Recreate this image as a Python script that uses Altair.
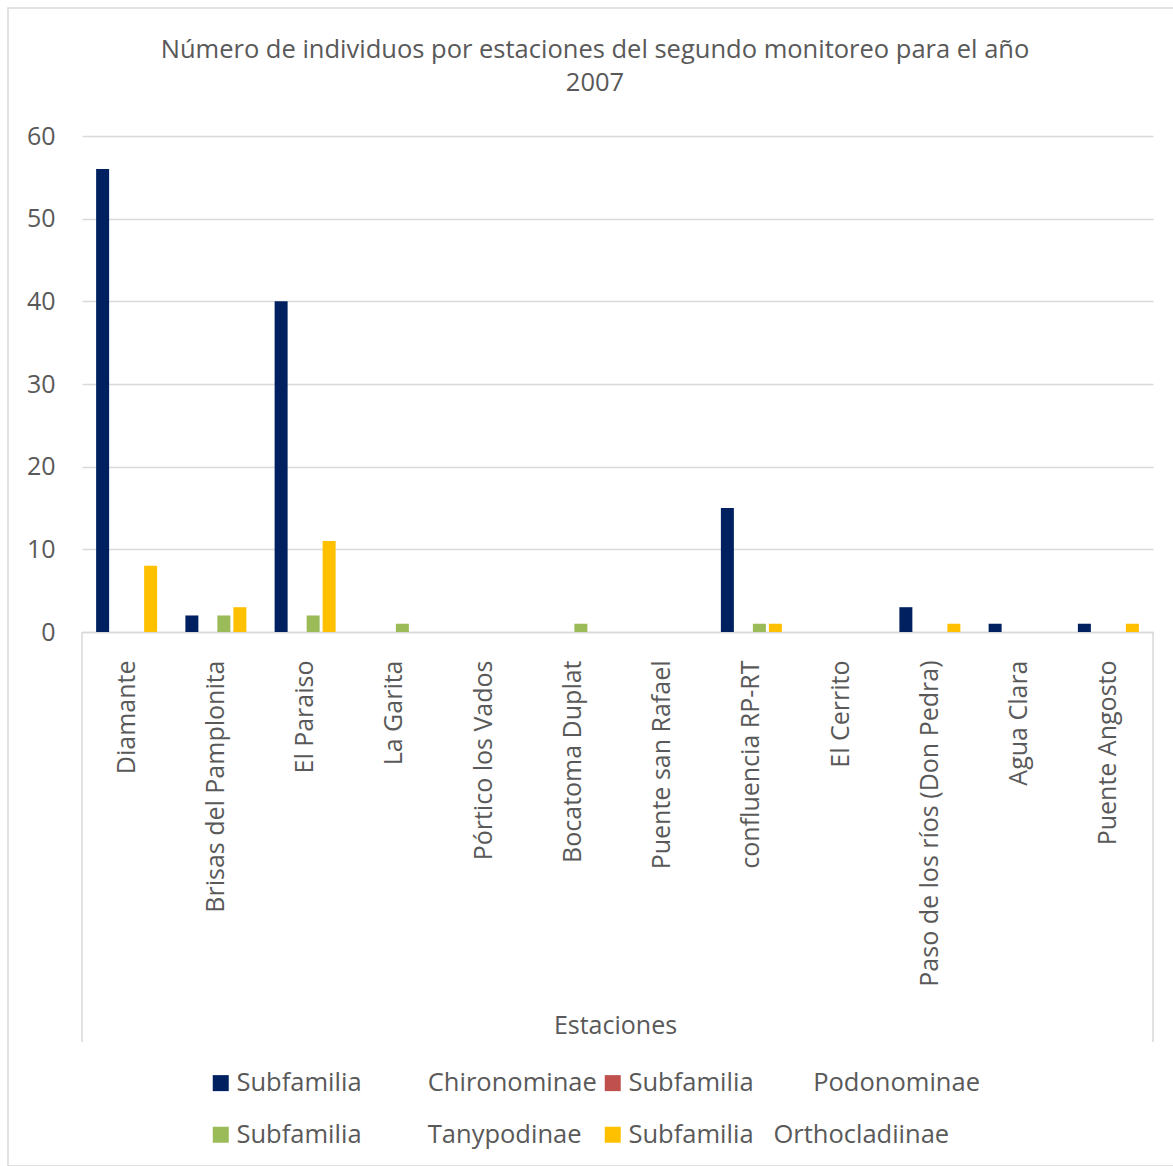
import altair as alt
import pandas as pd

NB = "\u00a0"

stations = [
    "Diamante", "Brisas del Pamplonita", "El Paraiso", "La Garita",
    "Pórtico los Vados", "Bocatoma Duplat", "Puente san Rafael",
    "confluencia RP-RT", "El Cerrito", "Paso de los ríos (Don Pedra)",
    "Agua Clara", "Puente Angosto",
]

series = [
    "Subfamilia" + NB * 10 + "Chironominae",
    "Subfamilia" + NB * 9 + "Podonominae",
    "Subfamilia" + NB * 10 + "Tanypodinae",
    "Subfamilia" + NB * 3 + "Orthocladiinae",
]
colors = ["#002060", "#C0504D", "#9BBB59", "#FFC000"]

chironominae = [56, 2, 40, 0, 0, 0, 0, 15, 0, 3, 1, 1]
podonominae = [0, 0, 0, 0, 0, 0, 0, 0, 0, 0, 0, 0]
tanypodinae = [0, 2, 2, 1, 0, 1, 0, 1, 0, 0, 0, 0]
orthocladiinae = [8, 3, 11, 0, 0, 0, 0, 1, 0, 1, 0, 1]

y_ticks = [0, 10, 20, 30, 40, 50, 60]

title_lines = [
    "Número de individuos por estaciones del segundo monitoreo para el año",
    "2007",
]

rows = []
for name, vals in zip(series, [chironominae, podonominae, tanypodinae, orthocladiinae]):
    for st, v in zip(stations, vals):
        rows.append({"Estación": st, "Serie": name, "Valor": v})
df = pd.DataFrame(rows)

FONT = "Open Sans"
GREY_TXT = "#595959"
GREY_LINE = "#d9d9d9"

bars = alt.Chart(df).mark_bar().encode(
    x=alt.X(
        "Estación:N",
        sort=stations,
        scale=alt.Scale(paddingInner=0, paddingOuter=0),
        axis=alt.Axis(
            title="Estaciones",
            labelAngle=-90,
            labelPadding=28,
            labelFontSize=25,
            labelColor=GREY_TXT,
            labelFont=FONT,
            labelLimit=400,
            ticks=False,
            grid=False,
            domainColor=GREY_LINE,
            domainWidth=1.5,
            titleFont=FONT,
            titleFontSize=25,
            titleFontWeight="normal",
            titleColor=GREY_TXT,
            titleY=393,
            titleX=533,
            titleBaseline="middle",
        ),
    ),
    xOffset=alt.XOffset(
        "Serie:N",
        sort=series,
        scale=alt.Scale(paddingInner=0.1875, paddingOuter=0.883),
    ),
    y=alt.Y(
        "Valor:Q",
        scale=alt.Scale(domain=[0, 60], nice=False),
        axis=alt.Axis(
            title=None,
            values=y_ticks,
            labelFontSize=25,
            labelColor=GREY_TXT,
            labelFont=FONT,
            labelPadding=27,
            ticks=False,
            domain=False,
            gridColor=GREY_LINE,
            gridWidth=1.5,
        ),
    ),
    color=alt.Color(
        "Serie:N",
        sort=series,
        scale=alt.Scale(domain=series, range=colors),
        legend=alt.Legend(
            title=None,
            orient="none",
            direction="horizontal",
            legendX=126,
            legendY=934,
            columns=2,
            symbolType="square",
            symbolSize=256,
            symbolStrokeWidth=0,
            labelFont=FONT,
            labelFontSize=25.5,
            labelColor=GREY_TXT,
            labelLimit=600,
            labelOffset=3,
            columnPadding=3,
            rowPadding=25,
            padding=0,
        ),
    ),
)

frame_df = pd.DataFrame({"k": [0]})

# outer chart border
outer = alt.Chart(frame_df).mark_rect(
    fill="transparent", stroke=GREY_LINE, strokeWidth=1.5
).encode(
    x=alt.value(-74), x2=alt.value(1110), y=alt.value(-128), y2=alt.value(1030)
)

# side edges of the box around the category labels
def side_edge(px):
    return alt.Chart(frame_df).mark_rect(fill=GREY_LINE, stroke=None).encode(
        x=alt.value(px - 0.75), x2=alt.value(px + 0.75),
        y=alt.value(496), y2=alt.value(906),
    )

label_box_left = side_edge(0)
label_box_right = side_edge(1071)

# two-line chart title
title_layers = [
    alt.Chart(frame_df).mark_text(
        font=FONT, fontSize=25.5, color=GREY_TXT, align="center", baseline="middle"
    ).encode(x=alt.value(513), y=alt.value(yy), text=alt.value(line))
    for line, yy in zip(title_lines, [-86, -53])
]

chart = alt.layer(outer, label_box_left, label_box_right, *title_layers, bars).properties(
    width=1071,
    height=496,
    background="white",
    autosize=alt.AutoSizeParams(type="none"),
    padding={"left": 82, "top": 136, "right": 20, "bottom": 534},
).configure_view(stroke="transparent", strokeWidth=0)

chart.save("out.html", embed_options={"renderer": "svg", "actions": False})
